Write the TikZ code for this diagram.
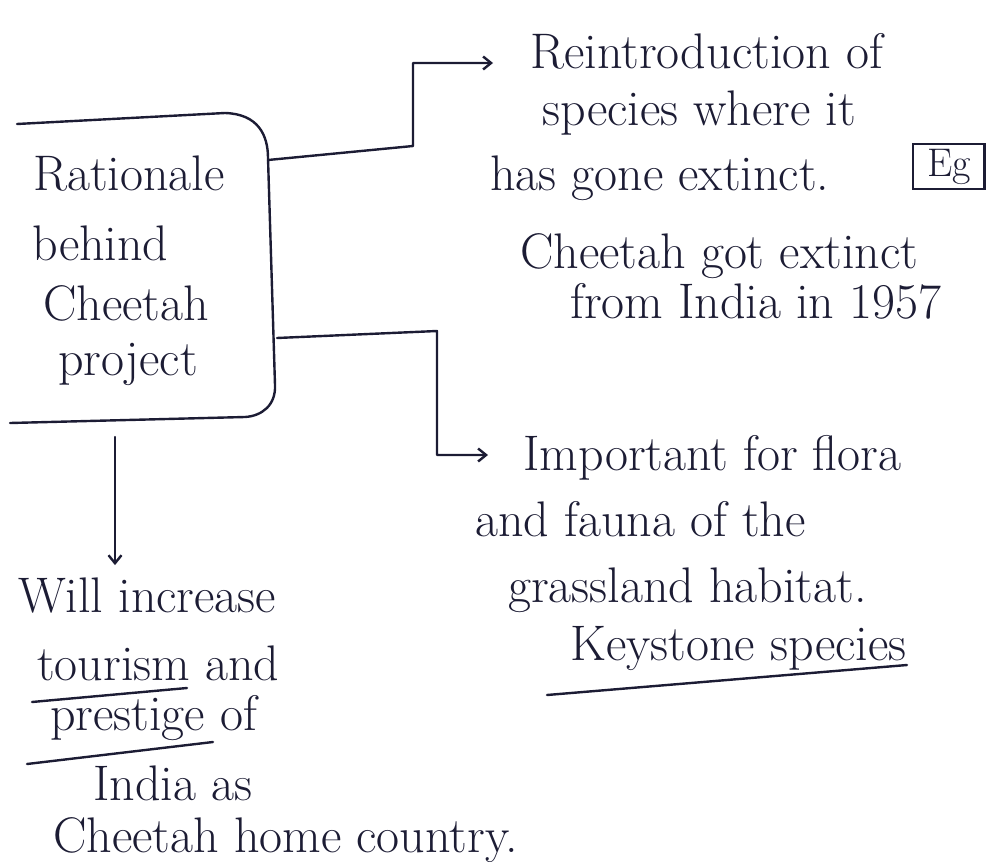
\documentclass[tikz,border=0pt]{standalone}
\usetikzlibrary{arrows,arrows.meta}
\definecolor{ink}{RGB}{28,28,52}

\begin{document}
\begin{tikzpicture}[%
        x=1pt, y=-1pt,
        every node/.style={inner sep=0pt, anchor=base west, text=ink, font=\fontsize{50}{60}\selectfont},
        line/.style={draw=ink, line width=2.4pt, line cap=round, line join=round},
        >={Straight Barb[length=8pt,width=13pt]}
      ]
      \useasboundingbox (0,0) rectangle (991,862);
      % central box (open on the left)
      \node (t1) at (33,190) {Rationale};
      \node (t2) at (32,260) {behind};
      \node (t3) at (43,320) {Cheetah};
      \node (t4) at (58,375) {project};
      \draw[line] (17,124) -- (225,113) .. controls (258,114) and (268,135) .. (268,158)
        -- (275,385) .. controls (276,405) and (262,416) .. (245,417) -- (10,423);
      \coordinate (b1) at (268,160);
      \coordinate (b2) at (277,338);
      \coordinate (b3) at (115,437);
      % reintroduction
      \node (r1) at (530,68) {Reintroduction of};
      \node (r2) at (542,125) {species where it};
      \node (r3) at (490,190) {has gone extinct.};
      \node (eg) [draw=ink, line width=2.2pt, inner xsep=14pt, inner ysep=5pt, font=\fontsize{40}{48}\selectfont] at (912,176) {Eg};
      \node (r4) at (520,268) {Cheetah got extinct};
      \node (r5) at (570,318) {from India in 1957};
      % keystone
      \node (i1) at (523,470) {Important for flora};
      \node (i2) at (475,536) {and fauna of the};
      \node (i3) at (508,602) {grassland habitat.};
      \node (i4) at (570,660) {Keystone species};
      % tourism
      \node (w1) at (18,612) {Will increase};
      \node (w2) at (37,680) {tourism and};
      \node (w3) at (50,730) {prestige of};
      \node (w4) at (93,800) {India as};
      \node (w5) at (53,852) {Cheetah home country.};
      % underlines
      \draw[line] (547,695) -- (907,665);
      \draw[line] (32,702) -- (187,688);
      \draw[line] (27,764) -- (213,742);
      % connectors
      \draw[line,->] (b1) -- (413,146) |- ([xshift=-37pt,yshift=5pt]r1.base west);
      \draw[line,->] (b2) -- (437,331) |- ([xshift=-35pt,yshift=15pt]i1.base west);
      \draw[line,->] (b3) -- ([yshift=12pt]b3 |- w1.north);
    \end{tikzpicture}
\end{document}
